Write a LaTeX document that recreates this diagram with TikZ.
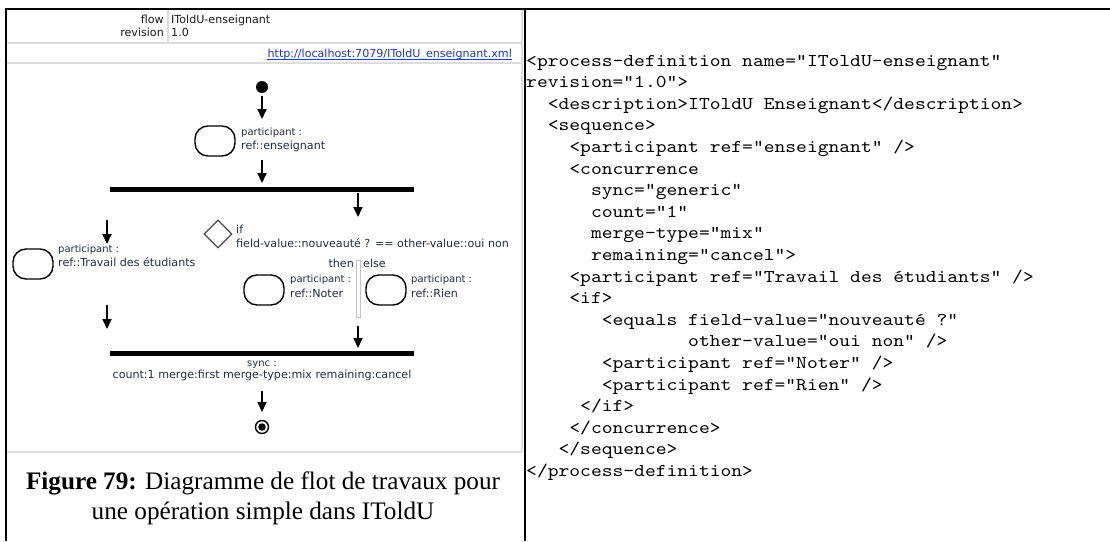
\documentclass[tikz,border=0pt]{standalone}
\usepackage{fontspec}
\setmainfont{Liberation Serif}
\setmonofont{lmmono10-regular.otf}[FakeStretch=1.143]
\newfontfamily\uifont{DejaVu Sans}
\usetikzlibrary{arrows.meta,shapes.geometric}
\definecolor{gridgray}{HTML}{DCDCDC}
\definecolor{sepgray}{HTML}{C4C4C4}
\definecolor{linkblue}{HTML}{1F35C8}
\definecolor{labnavy}{HTML}{222C45}
\definecolor{txtdark}{HTML}{1A1A1A}
\begin{document}
\begin{tikzpicture}[x=1pt,y=-1pt,
  ui/.style={font=\uifont\fontsize{11.1}{12.5}\selectfont, inner sep=0pt, text=txtdark},
  uis/.style={font=\uifont\fontsize{10}{11}\selectfont, inner sep=0pt, text=labnavy},
  code/.style={font=\ttfamily\fontsize{18}{21.6}\selectfont, inner sep=0pt, anchor=base west},
  part/.style={draw=black, line width=1.4pt, rounded corners=13pt, minimum width=40pt, minimum height=30pt, inner sep=0pt},
  bar/.style={fill=black, minimum width=304pt, minimum height=5pt, inner sep=0pt},
  arr/.style={line width=1.8pt, -{Triangle[length=10pt,width=9pt]}},
  frame/.style={line width=2.4pt, black},
  grid/.style={line width=1.1pt, gridgray}]
\useasboundingbox (0,0) rectangle (1110,541);
\fill[white] (0,0) rectangle (1110,541);

% light grid of the screenshot panel
\draw[grid] (7,43) -- (522,43);
\draw[grid] (7,63) -- (522,63);
\draw[grid] (168,9) -- (168,43);
\draw[grid] (522,9) -- (522,452) -- (7,452);

% black frame
\draw[frame] (6,541) -- (6,9) -- (1110,9);
\draw[frame] (525,9) -- (525,541);

% header rows
\node[ui, anchor=base east] (flowk) at (164,23) {flow};
\node[ui, anchor=base west] (flowv) at (171,23) {IToldU-enseignant};
\node[ui, anchor=base east] (revk) at (164,36) {revision};
\node[ui, anchor=base west] (revv) at (171,36) {1.0};
\node[ui, anchor=base east, text=linkblue] (link) at (512,57) {http://localhost:7079/IToldU\_enseignant.xml};
\draw[linkblue, line width=0.8pt] ([yshift=-2pt]link.base west) -- ([yshift=-2pt]link.base east);

% start
\node[circle, fill=black, minimum size=12pt, inner sep=0pt] (start) at (262,87) {};
\coordinate (a1s) at (262,96);
\coordinate (a1e) at (262,119);
\draw[arr] (a1s) -- (a1e);

% participant enseignant
\node[part] (p1) at (215,141) {};
\node[uis, anchor=base west] (p1a) at (241,135) {participant :};
\node[ui, anchor=base west, text=labnavy] (p1b) at (241,149) {ref::enseignant};
\coordinate (a2s) at (262,160);
\coordinate (a2e) at (262,183);
\draw[arr] (a2s) -- (a2e);

% fork bar
\node[bar] (fork) at (262,189) {};

% left branch
\coordinate (a3s) at (107,220);
\coordinate (a3e) at (107,244);
\draw[arr] (a3s) -- (a3e);
\node[part] (p2) at (33,264) {};
\node[uis, anchor=base west] (p2a) at (58,252) {participant :};
\node[ui, anchor=base west, text=labnavy] (p2b) at (58,266) {ref::Travail des étudiants};
\coordinate (a4s) at (107,305);
\coordinate (a4e) at (107,329);
\draw[arr] (a4s) -- (a4e);

% right branch
\coordinate (a5s) at (358,193);
\coordinate (a5e) at (358,217);
\draw[arr] (a5s) -- (a5e);
\node[diamond, draw=black!70, line width=1.2pt, minimum width=28pt, minimum height=28pt, inner sep=0pt] (dec) at (218,234) {};
\node[ui, anchor=base west, text=labnavy] (ifa) at (236,233) {if};
\node[ui, anchor=base west, text=labnavy] (ifb) at (236,247) {field-value::nouveauté ? == other-value::oui non};
\node[ui, anchor=base east, text=labnavy] (then) at (354,267) {then};
\node[ui, anchor=base west, text=labnavy] (else) at (363,267) {else};
\node[draw=sepgray, line width=0.8pt, minimum width=4pt, minimum height=57pt, inner sep=0pt] (sep) at (358.5,288.5) {};
\node[part] (p3) at (264,290) {};
\node[uis, anchor=base west] (p3a) at (290,282) {participant :};
\node[ui, anchor=base west, text=labnavy] (p3b) at (290,297) {ref::Noter};
\node[part] (p4) at (386,290) {};
\node[uis, anchor=base west] (p4a) at (411,282) {participant :};
\node[ui, anchor=base west, text=labnavy] (p4b) at (411,297) {ref::Rien};
\coordinate (a6s) at (358,326);
\coordinate (a6e) at (358,348);
\draw[arr] (a6s) -- (a6e);

% join bar
\node[bar] (join) at (262,353) {};
\node[uis, anchor=base] (synca) at (262,366) {sync :};
\node[ui, anchor=base, text=labnavy] (syncb) at (262,378) {count:1 merge:first merge-type:mix remaining:cancel};

% end
\coordinate (a7s) at (262,391);
\coordinate (a7e) at (262,412);
\draw[arr] (a7s) -- (a7e);
\node[circle, draw=black, line width=1.4pt, minimum size=13pt, inner sep=0pt] (endo) at (262,427) {};
\node[circle, fill=black, minimum size=7.5pt, inner sep=0pt] (endi) at (262,427) {};

% caption
\node[anchor=base, inner sep=0pt, font=\fontsize{25.2}{29}\selectfont] (cap1) at (263,489) {\textbf{Figure 79:} Diagramme de flot de travaux pour};
\node[anchor=base, inner sep=0pt, font=\fontsize{25.2}{29}\selectfont] (cap2) at (263,519) {une opération simple dans IToldU};

% XML code
\node[code] (c1) at (526,66) {<process-definition name="IToldU-enseignant"};
\node[code] (c2) at (526,87.6) {revision="1.0">};
\node[code] (c3) at (547.6,109.2) {<description>IToldU Enseignant</description>};
\node[code] (c4) at (547.6,130.8) {<sequence>};
\node[code] (c5) at (569.2,152.4) {<participant ref="enseignant" />};
\node[code] (c6) at (569.2,174) {<concurrence};
\node[code] (c7) at (590.8,195.6) {sync="generic"};
\node[code] (c8) at (590.8,217.2) {count="1"};
\node[code] (c9) at (590.8,238.8) {merge-type="mix"};
\node[code] (c10) at (590.8,260.4) {remaining="cancel">};
\node[code] (c11) at (569.2,282) {<participant ref="Travail des étudiants" />};
\node[code] (c12) at (569.2,303.6) {<if>};
\node[code] (c13) at (601.6,325.2) {<equals field-value="nouveauté ?"};
\node[code] (c14) at (688,346.8) {other-value="oui non" />};
\node[code] (c15) at (601.6,368.4) {<participant ref="Noter" />};
\node[code] (c16) at (601.6,390) {<participant ref="Rien" />};
\node[code] (c17) at (580,411.6) {</if>};
\node[code] (c18) at (569.2,433.2) {</concurrence>};
\node[code] (c19) at (558.4,454.8) {</sequence>};
\node[code] (c20) at (526,476.4) {</process-definition>};
\end{tikzpicture}
\end{document}
